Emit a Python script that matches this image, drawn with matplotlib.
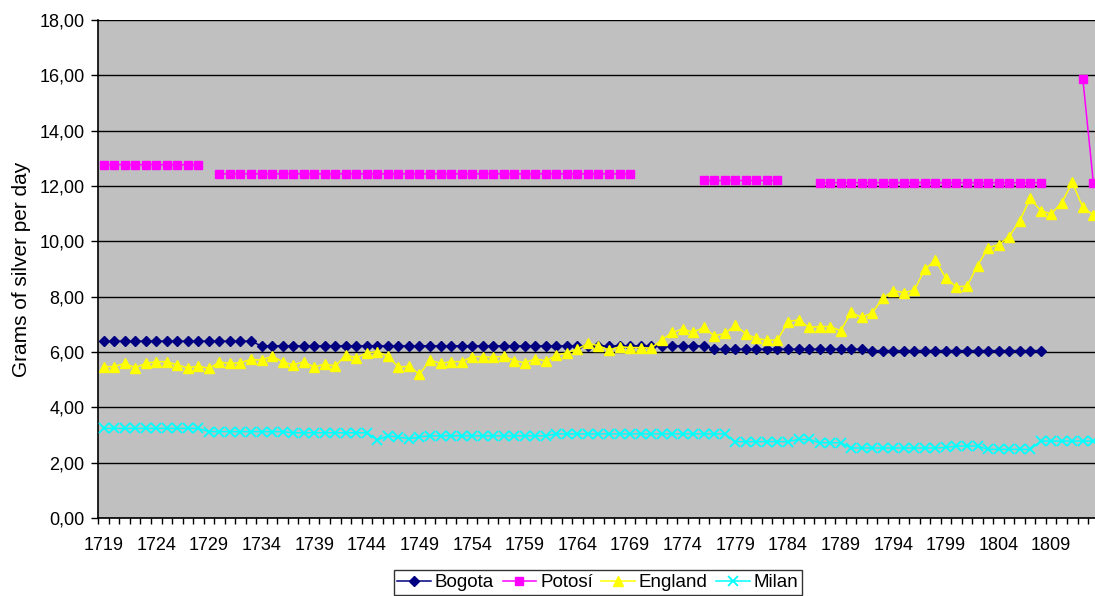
import numpy as np
import matplotlib
matplotlib.use('Agg')
import matplotlib.pyplot as plt
from matplotlib.ticker import FixedLocator, FuncFormatter

plt.rcParams['font.family'] = ['Liberation Sans', 'DejaVu Sans']

nan = np.nan

### données (1719 -> 1813)
annees = list(range(1719, 1814))

bogota = [6.39, 6.39, 6.39, 6.39, 6.39, 6.39, 6.39, 6.39, 6.39, 6.39,
          6.39, 6.39, 6.39, 6.39, 6.39, 6.22, 6.22, 6.22, 6.22, 6.22,
          6.22, 6.22, 6.22, 6.22, 6.22, 6.22, 6.22, 6.22, 6.22, 6.22,
          6.22, 6.22, 6.22, 6.22, 6.22, 6.22, 6.22, 6.22, 6.22, 6.22,
          6.22, 6.22, 6.22, 6.22, 6.22, 6.22, 6.22, 6.22, 6.22, 6.22,
          6.22, 6.22, 6.22, 6.22, 6.22, 6.22, 6.22, 6.22, 6.10, 6.10,
          6.10, 6.10, 6.10, 6.10, 6.10, 6.10, 6.10, 6.10, 6.10, 6.10,
          6.10, 6.10, 6.10, 6.05, 6.05, 6.05, 6.05, 6.05, 6.05, 6.05,
          6.05, 6.05, 6.05, 6.05, 6.05, 6.05, 6.05, 6.05, 6.05, 6.05,
          nan, nan, nan, nan, nan]

potosi = [12.77, 12.77, 12.77, 12.77, 12.77, 12.77, 12.77, 12.77, 12.77, 12.77,
          nan, 12.44, 12.44, 12.44, 12.44, 12.44, 12.44, 12.44, 12.44, 12.44,
          12.44, 12.44, 12.44, 12.44, 12.44, 12.44, 12.44, 12.44, 12.44, 12.44,
          12.44, 12.44, 12.44, 12.44, 12.44, 12.44, 12.44, 12.44, 12.44, 12.44,
          12.44, 12.44, 12.44, 12.44, 12.44, 12.44, 12.44, 12.44, 12.44, 12.44,
          12.44, nan, nan, nan, nan, nan, nan, 12.20, 12.20, 12.20,
          12.20, 12.20, 12.20, 12.20, 12.20, nan, nan, nan, 12.12, 12.12,
          12.12, 12.12, 12.12, 12.12, 12.12, 12.12, 12.12, 12.12, 12.12, 12.12,
          12.12, 12.12, 12.12, 12.12, 12.12, 12.12, 12.12, 12.12, 12.12, 12.12,
          nan, nan, nan, 15.88, 12.12]

england = [5.47, 5.47, 5.59, 5.43, 5.59, 5.65, 5.65, 5.53, 5.43, 5.49,
           5.41, 5.63, 5.59, 5.61, 5.73, 5.71, 5.85, 5.65, 5.53, 5.65,
           5.45, 5.57, 5.49, 5.89, 5.79, 5.97, 6.01, 5.85, 5.45, 5.49,
           5.19, 5.71, 5.59, 5.65, 5.65, 5.83, 5.83, 5.81, 5.85, 5.69,
           5.61, 5.75, 5.68, 5.89, 5.97, 6.11, 6.31, 6.23, 6.07, 6.19,
           6.16, 6.16, 6.14, 6.43, 6.71, 6.83, 6.71, 6.89, 6.58, 6.67,
           6.97, 6.65, 6.49, 6.43, 6.43, 7.10, 7.16, 6.89, 6.92, 6.92,
           6.77, 7.43, 7.25, 7.42, 7.94, 8.22, 8.14, 8.24, 8.99, 9.32,
           8.66, 8.36, 8.38, 9.12, 9.77, 9.88, 10.17, 10.74, 11.55, 11.11,
           10.99, 11.40, 12.13, 11.23, 10.95]

milan = [3.24, 3.24, 3.24, 3.24, 3.24, 3.24, 3.24, 3.24, 3.24, 3.24,
         3.12, 3.12, 3.12, 3.12, 3.12, 3.12, 3.12, 3.12, 3.08, 3.08,
         3.08, 3.08, 3.08, 3.08, 3.08, 3.08, 2.82, 2.97, 2.93, 2.86,
         2.93, 2.97, 2.97, 2.97, 2.97, 2.97, 2.97, 2.97, 2.97, 2.97,
         2.97, 2.97, 2.97, 3.04, 3.04, 3.04, 3.04, 3.04, 3.04, 3.04,
         3.04, 3.04, 3.04, 3.04, 3.04, 3.04, 3.04, 3.04, 3.04, 3.04,
         2.76, 2.76, 2.76, 2.76, 2.76, 2.76, 2.84, 2.84, 2.72, 2.72,
         2.72, 2.53, 2.53, 2.53, 2.53, 2.53, 2.53, 2.53, 2.53, 2.53,
         2.55, 2.60, 2.60, 2.60, 2.48, 2.48, 2.48, 2.48, 2.48, 2.78,
         2.78, 2.78, 2.78, 2.78, 2.78]

### figure
fig = plt.figure(figsize=(10.95, 5.96), dpi=100)
# la zone de tracé déborde un peu à droite, comme sur l'original
ax = fig.add_axes([0.0898, 0.1309, 0.9135, 0.8355])
ax.set_facecolor('#C0C0C0')

x = np.arange(len(annees))

ax.plot(x, bogota, color='#000080', lw=1.1, marker='D', ms=5.5, label='Bogota', zorder=3)
ax.plot(x, potosi, color='#FF00FF', lw=1.1, marker='s', ms=6, label='Potosí', zorder=3)
ax.plot(x, england, color='#FFFF00', lw=1.1, marker='^', ms=7, label='England', zorder=3)
ax.plot(x, milan, color='#00FFFF', lw=1.1, marker='x', ms=6.5, mew=1.3, label='Milan', zorder=3)

ax.set_xlim(-0.5, len(annees) - 0.5)
ax.set_ylim(0, 18)

ax.set_yticks(np.arange(0, 19, 2))
ax.yaxis.set_major_formatter(FuncFormatter(lambda v, p: ('%.2f' % v).replace('.', ',')))
ax.yaxis.grid(True, color='black', lw=1.0)
ax.set_axisbelow(True)

ax.set_xticks(x[::5])
ax.set_xticklabels([str(a) for a in annees[::5]])
ax.xaxis.set_minor_locator(FixedLocator(np.arange(-0.5, len(annees), 1.0)))
ax.tick_params(axis='x', which='major', length=0, pad=14, labelsize=13)
ax.tick_params(axis='x', which='minor', length=4.5, width=1, direction='out')
ax.tick_params(axis='y', length=5, width=1, pad=5, labelsize=13)

for s in ['top', 'right']:
    ax.spines[s].set_visible(False)
ax.spines['left'].set_linewidth(1.2)
ax.spines['bottom'].set_linewidth(1.2)

ax.set_ylabel('Grams of silver per day', fontsize=15, labelpad=6)

leg = fig.legend(loc='upper center', bbox_to_anchor=(0.546, 0.043), ncol=4,
                 fontsize=13.5, frameon=True, fancybox=False, edgecolor='black',
                 handlelength=1.8, handletextpad=0.2, columnspacing=0.45,
                 borderpad=0.2, borderaxespad=0)
leg.get_frame().set_linewidth(1.0)

plt.savefig('out.png', dpi=100)
